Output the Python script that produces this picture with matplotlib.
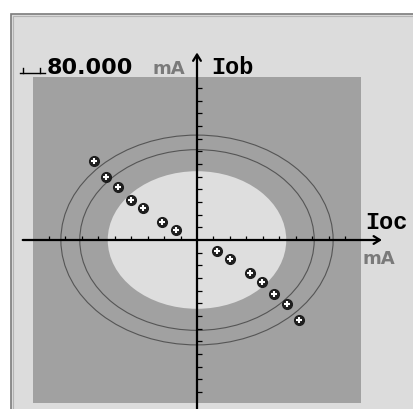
import matplotlib.pyplot as plt
from matplotlib.patches import Rectangle, Circle

# ============================================================
# DATA (current vectors, mA, plotted on Ioc / Iob plane)
# ============================================================

ioc_points = [-6.27, -5.54, -4.82, -4.03, -3.30, -2.13, -1.30,
              1.19, 2.03, 3.22, 3.95, 4.68, 5.45, 6.20]
iob_points = [6.26, 5.00, 4.16, 3.16, 2.55, 1.44, 0.79,
              -0.88, -1.52, -2.63, -3.29, -4.26, -5.05, -6.31]

# zones (radii in axis units)
inner_zone_radius = 5.43
ring_radii = [7.13, 8.28]
field_half_width = 10.0
field_half_height = 12.87

ioc_ticks = [t for t in range(-9, 10) if t != 0]
iob_ticks = [t for t in range(-12, 13) if t != 0]

scale_label = "80.000"
unit_label = "mA"

# ============================================================
# LAYOUT (pixels of the 414x409 image)
# ============================================================

W, H = 414, 409
X0, Y0 = 197.0, 240.0       # origin, px from top-left
SX, SY = 16.44, 12.67       # px per unit

BG = "#dcdcdc"
DARK = "#a1a1a1"
LIGHT = "#dedede"
GREY_TXT = "#7a7a7a"


def fx(px):
    return px / W


def fy(py):
    return 1.0 - py / H


fig = plt.figure(figsize=(W / 100, H / 100), dpi=100)
fig.patch.set_facecolor("white")

ax = fig.add_axes([0, 0, 1, 1])
ax.set_xlim(-X0 / SX, (W - X0) / SX)
ax.set_ylim(-(H - Y0) / SY, Y0 / SY)
ax.axis("off")
ax.patch.set_alpha(0)

# outer panel frame
ax.add_patch(Rectangle((fx(11), -0.1), 1.2, fy(14) + 0.1, transform=fig.transFigure,
                       facecolor=BG, edgecolor="#7c7c7c", linewidth=1.2,
                       zorder=0, clip_on=False))
ax.add_patch(Rectangle((fx(13), -0.1), 1.2, fy(16) + 0.1, transform=fig.transFigure,
                       facecolor="none", edgecolor="#b4b4b4", linewidth=0.8,
                       zorder=0.5, clip_on=False))

ax.add_patch(Rectangle((-field_half_width, -field_half_height),
                       2 * field_half_width, 2 * field_half_height,
                       facecolor=DARK, edgecolor="none", zorder=1))
ax.add_patch(Circle((0, 0), inner_zone_radius, facecolor=LIGHT,
                    edgecolor="none", zorder=2))
for r in ring_radii:
    ax.add_patch(Circle((0, 0), r, facecolor="none", edgecolor="#555555",
                        linewidth=0.8, zorder=3))

# axes with arrows
arrow = dict(arrowstyle="->,head_length=0.45,head_width=0.28", lw=1.6,
             color="black", shrinkA=0, shrinkB=0)
ax.annotate("", xy=(11.25, 0), xytext=(-10.6, 0), arrowprops=arrow, zorder=4)
ax.annotate("", xy=(0, 14.8), xytext=(0, -13.5), arrowprops=arrow, zorder=4)

ax.vlines(ioc_ticks, 0, 0.34, color="black", linewidth=0.9, zorder=4)
ax.hlines(iob_ticks, 0, 0.30, color="black", linewidth=0.9, zorder=4)

# measured points
ax.plot(ioc_points, iob_points, linestyle="none", marker="o", markersize=7,
        color="#1e1e1e", zorder=5)
ax.plot(ioc_points, iob_points, linestyle="none", marker="+", markersize=4.5,
        markeredgewidth=1.5, color="white", zorder=6)

# scale marker
ax.plot([fx(20), fx(45)], [fy(73), fy(73)], transform=fig.transFigure,
        color="black", linewidth=1.0, clip_on=False, zorder=4)
for xm in (23, 40):
    ax.plot([fx(xm), fx(xm)], [fy(73), fy(68)], transform=fig.transFigure,
            color="black", linewidth=1.0, clip_on=False, zorder=4)

fig.text(fx(47), fy(74), scale_label, fontsize=16, fontweight="bold",
         family="DejaVu Sans", color="black", ha="left", va="baseline")
fig.text(fx(153), fy(74), unit_label, fontsize=13, fontweight="bold",
         family="DejaVu Sans", color=GREY_TXT, ha="left", va="baseline")
fig.text(fx(211), fy(74), "Iob", fontsize=17, fontweight="bold",
         family="Liberation Mono", color="black", ha="left", va="baseline")
fig.text(fx(365), fy(229), "Ioc", fontsize=17, fontweight="bold",
         family="Liberation Mono", color="black", ha="left", va="baseline")
fig.text(fx(363), fy(264), unit_label, fontsize=13, fontweight="bold",
         family="DejaVu Sans", color=GREY_TXT, ha="left", va="baseline")

fig.savefig("out.png", dpi=100)
